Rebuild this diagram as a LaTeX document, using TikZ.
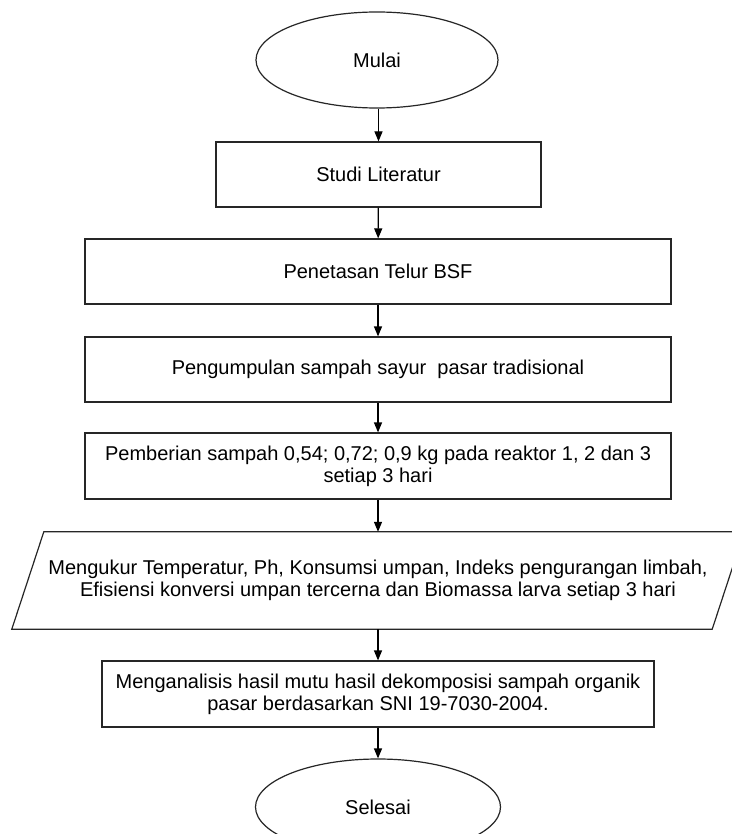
\documentclass[tikz,border=0pt]{standalone}
\usepackage{fontspec}
\setmainfont{Liberation Sans}
\usetikzlibrary{shapes.geometric,arrows.meta}
\begin{document}
\begin{tikzpicture}[x=1pt,y=-1pt,
  txt/.style={font=\fontsize{20}{22}\selectfont, align=center, text=black},
  term/.style={txt, ellipse, draw=black!85, line width=1.2pt, inner sep=0pt},
  procbox/.style={txt, rectangle, draw=black!85, line width=1.2pt, inner sep=0pt},
  iobox/.style={txt, rectangle, inner sep=0pt},
  flow/.style={line width=1.2pt, -{Triangle[length=10pt,width=8pt]}}
]
\useasboundingbox (0,0) rectangle (731,834);
\fill[white] (0,0) rectangle (731,834);

\node[term, minimum width=242pt, minimum height=96pt] (mulai) at (377,60) {Mulai};
\node[procbox, minimum width=325pt, minimum height=65pt] (studi) at (378.5,174.5) {Studi Literatur};
\node[procbox, minimum width=586pt, minimum height=65pt] (tetas) at (378,271.5) {Penetasan Telur BSF};
\node[procbox, minimum width=586pt, minimum height=65pt] (kumpul) at (378,369.5) {Pengumpulan sampah sayur~\ pasar tradisional};
\node[procbox, minimum width=586pt, minimum height=66pt] (beri) at (378,466) {Pemberian sampah 0,54; 0,72; 0,9 kg pada reaktor 1, 2 dan 3\\setiap 3 hari};
\node[iobox, minimum width=700pt, minimum height=97pt] (ukur) at (378,580.5) {Mengukur Temperatur, Ph, Konsumsi umpan, Indeks pengurangan limbah,\\Efisiensi konversi umpan tercerna dan Biomassa larva setiap 3 hari};
\draw[black!85, line width=1.2pt] ([xshift=16pt]ukur.north west) -- ([xshift=16pt]ukur.north east) -- ([xshift=-16pt]ukur.south east) -- ([xshift=-16pt]ukur.south west) -- cycle;
\node[procbox, minimum width=552pt, minimum height=66pt] (analisis) at (378,694) {Menganalisis hasil mutu hasil dekomposisi sampah organik\\pasar berdasarkan SNI 19-7030-2004.};
\node[term, minimum width=245pt, minimum height=96pt] (selesai) at (378,807) {Selesai};

\draw[flow] (mulai.south -| studi.north) -- (studi.north);
\draw[flow] (studi) -- (tetas);
\draw[flow] (tetas) -- (kumpul);
\draw[flow] (kumpul) -- (beri);
\draw[flow] (beri) -- (ukur);
\draw[flow] (ukur) -- (analisis);
\draw[flow] (analisis) -- (selesai);
\end{tikzpicture}
\end{document}
